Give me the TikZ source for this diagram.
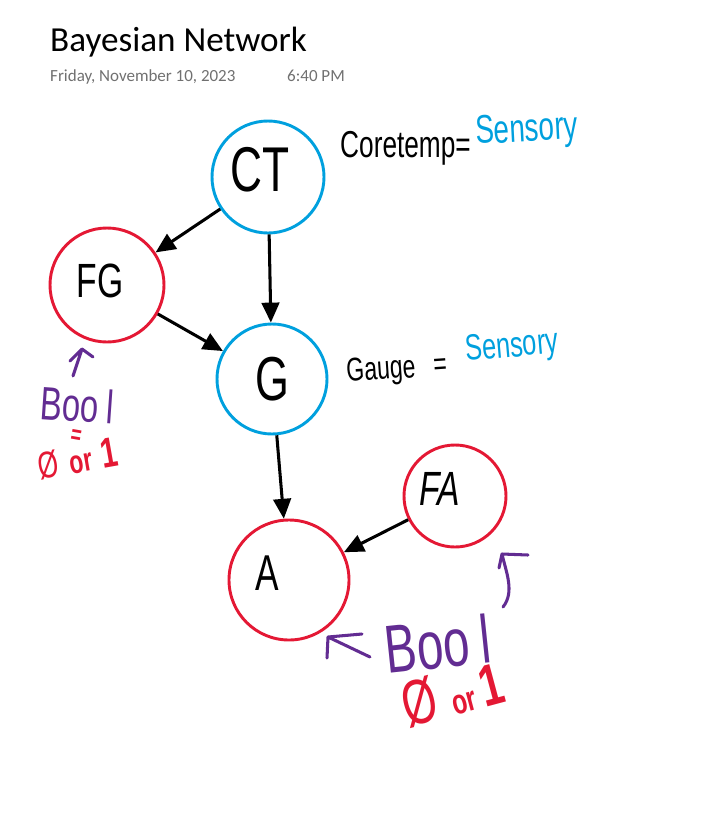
\documentclass[tikz,border=0pt]{standalone}
\usepackage{fontspec}
\setmainfont{Carlito}
\newfontfamily\handfont[FakeStretch=0.7]{Liberation Sans}
\usetikzlibrary{arrows.meta}
\definecolor{inkblue}{RGB}{0,160,222}
\definecolor{inkred}{RGB}{228,24,52}
\definecolor{inkpurple}{RGB}{98,44,146}
\definecolor{dategray}{RGB}{112,112,112}
\newcommand*{\handsz}[1]{\handfont\fontsize{#1}{#1}\selectfont}

\begin{document}
\begin{tikzpicture}[x=0.03cm,y=-0.03cm,>={Triangle[length=17pt,width=15pt]},
    varnode/.style={circle,draw,line width=2.5pt,inner sep=0pt},
    varlab/.style={font=\handsz{#1}},
    arr/.style={->,line width=2.6pt},
    pen/.style={line width=2.6pt,line cap=round,line join=round,color=inkpurple}]
  \useasboundingbox (0,0) rectangle (701,835);
  % header
  \node[anchor=base west,inner sep=0pt,font=\fontsize{30}{30}\selectfont] (title) at (50,51) {Bayesian Network};
  \node[anchor=base west,inner sep=0pt,text=dategray,font=\fontsize{14.5}{14.5}\selectfont] (date) at (50,81) {Friday, November 10, 2023};
  \node[anchor=base west,inner sep=0pt,text=dategray,font=\fontsize{14.5}{14.5}\selectfont] (time) at (287,81) {6:40 PM};
  % variables
  \node[varnode,inkblue,minimum size=3.36cm,label={[varlab=54,xshift=-0.24cm,yshift=0.21cm]center:CT}] (ct) at (268,177) {};
  \node[varnode,inkred,minimum size=3.42cm,label={[varlab=41,xshift=-0.21cm,yshift=0.12cm]center:FG}] (fg) at (107,285) {};
  \node[varnode,inkblue,minimum size=3.3cm,label={[varlab=53]center:G}] (g) at (272,379) {};
  \node[varnode,inkred,minimum size=3.06cm,label={[font=\handsz{41}\itshape,xshift=-0.45cm,yshift=0.21cm]center:FA}] (fa) at (455,496) {};
  \node[varnode,inkred,minimum size=3.6cm,label={[varlab=43,xshift=-0.66cm,yshift=0.21cm]center:A}] (a) at (289,580) {};
  % edges
  \draw[arr] (ct) -- (fg);
  \draw[arr] (ct) -- (g);
  \draw[arr] (fg) -- (g);
  \draw[arr] (g) -- (a);
  \draw[arr] (fa) -- (a);
  % notes
  \node[anchor=base west,inner sep=0pt,font=\handsz{32}] (ctnote) at (340,157) {Coretemp=};
  \node[anchor=base west,inner sep=0pt,text=inkblue,font=\handsz{34},rotate=3] (ctsense) at (476,144) {Sensory};
  \node[anchor=base west,inner sep=0pt,font=\handsz{28},rotate=4] (gnote) at (347,382) {Gauge\ \ \,=};
  \node[anchor=base west,inner sep=0pt,text=inkblue,font=\handsz{31},rotate=5] (gsense) at (466,361) {Sensory};
  % left bool
  \coordinate (fgtip) at (82,349);
  \draw[pen] (73,376) -- (fgtip) (70,361) -- (fgtip) -- (93,357);
  \node[text=inkpurple,font=\handsz{40},rotate=-4,inner sep=0pt] (fgbool) at (77,405) {Boo\,l};
  \node[text=inkred,font=\handsz{22}\bfseries,inner sep=0pt,rotate=-10] (fgeq) at (76,437) {=};
  \node[text=inkred,inner sep=0pt,anchor=base west,rotate=10] (fgval) at (40,480) {{\handsz{32}Ø}\hspace{10pt}{\handsz{28}\bfseries or}\hspace{8pt}{\handsz{36}\bfseries 1}};
  % bottom bool
  \coordinate (atip) at (328,637);
  \draw[pen] (370,657) -- (atip) -- (362,634) (atip) -- (327,658);
  \node[text=inkpurple,font=\handsz{58},rotate=6,inner sep=0pt] (abool) at (438,644) {Boo\,l};
  \coordinate (fatip) at (502,554);
  \draw[pen] (503,607) .. controls (515,592) and (506,572) .. (fatip) -- (528,555) (fatip) -- (499,568);
  \node[text=inkred,inner sep=0pt,anchor=base west,rotate=15] (aval) at (408,728) {{\handsz{54}Ø}\hspace{12pt}{\handsz{30}\bfseries or}\hspace{6pt}{\handsz{50}\bfseries 1}};
\end{tikzpicture}
\end{document}
